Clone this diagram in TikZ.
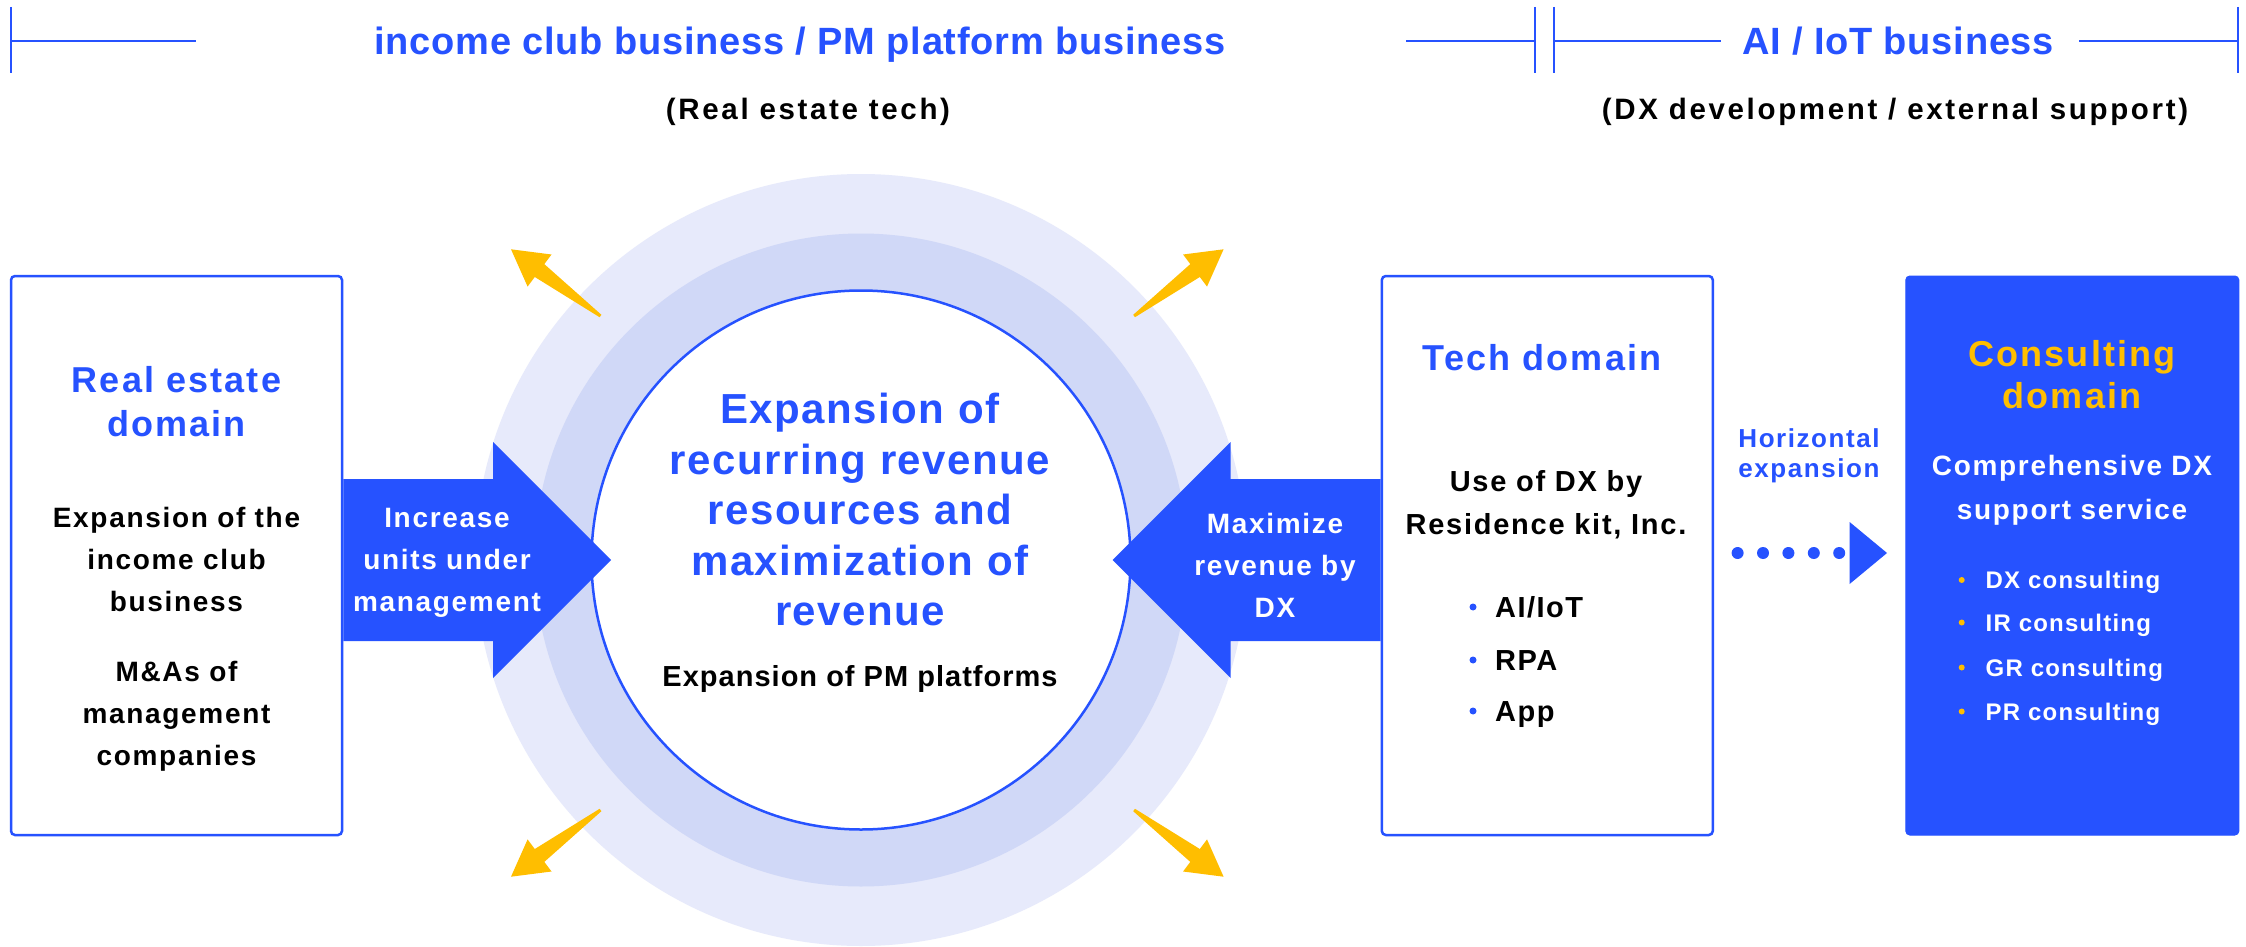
\documentclass[tikz,border=0pt]{standalone}
\usepackage{fontspec}
\setmainfont{Liberation Sans}
\newfontfamily\ftitle[LetterSpace=2]{Liberation Sans}
\newfontfamily\fsub[LetterSpace=9]{Liberation Sans}
\newfontfamily\fbody[LetterSpace=6]{Liberation Sans}
\newfontfamily\fcirc[LetterSpace=3.5]{Liberation Sans}
\newfontfamily\fitem[LetterSpace=5]{Liberation Sans}
\definecolor{mblue}{RGB}{38,82,255}
\definecolor{ringA}{RGB}{231,234,251}
\definecolor{ringB}{RGB}{208,216,247}
\definecolor{myellow}{RGB}{255,190,0}
\begin{document}
\begin{tikzpicture}[x=1pt,y=-1pt,
  hline/.style={draw=mblue, line width=2.5pt},
  box/.style={draw=mblue, line width=2.5pt, fill=white, rounded corners=4pt,
    minimum width=331pt, minimum height=559pt, inner sep=0pt},
  txt/.style={anchor=base, inner sep=0pt, align=center},
  item/.style={anchor=base west, inner sep=0pt},
  yarrow/.style={fill=myellow},
  barrow/.style={fill=mblue}]
\fill[white] (0,0) rectangle (2246,947);
\useasboundingbox (0,0) rectangle (2246,947);

% header
\node[txt, text=mblue, font=\ftitle\bfseries\fontsize{38}{46}\selectfont] (t1) at (800,55) {income club business / PM platform business};
\node[txt, text=mblue, font=\ftitle\bfseries\fontsize{38}{46}\selectfont] (t2) at (1898,55) {AI / IoT business};
\node[txt, font=\fsub\bfseries\fontsize{29.5}{36}\selectfont] (s1) at (808,120) {(Real estate tech)};
\node[txt, font=\fsub\bfseries\fontsize{29.5}{36}\selectfont] (s2) at (1895,120) {(DX development / external support)};
\draw[hline] (11,7) -- (11,73);
\draw[hline] (11,41) -- (196,41);
\draw[hline] (1406,41) -- (1535,41);
\draw[hline] (1535,7) -- (1535,73);
\draw[hline] (1554,7) -- (1554,73);
\draw[hline] (1554,41) -- (1721,41);
\draw[hline] (2079,41) -- (2238,41);
\draw[hline] (2238,7) -- (2238,73);

% circle
\fill[ringA] (861,560) circle (386);
\fill[ringB] (861,560) circle (326.5);
\node[circle, draw=mblue, line width=2.5pt, fill=white, minimum size=539pt, inner sep=0pt] (core) at (861,560) {};

% yellow arrows
\fill[yarrow] (511.0,249.3) -- (551.5,254.5) -- (544.3,264.1) -- (601.4,314.8) -- (599.6,317.2) -- (534.8,277.0) -- (527.6,286.6) -- cycle;
\fill[yarrow] (1223.6,249.3) -- (1183.1,254.5) -- (1190.3,264.1) -- (1133.2,314.8) -- (1135.0,317.2) -- (1199.8,277.0) -- (1207.0,286.6) -- cycle;
\fill[yarrow] (511.0,876.7) -- (551.5,871.5) -- (544.3,861.9) -- (601.4,811.2) -- (599.6,808.8) -- (534.8,849.0) -- (527.6,839.4) -- cycle;
\fill[yarrow] (1223.6,876.7) -- (1183.1,871.5) -- (1190.3,861.9) -- (1133.2,811.2) -- (1135.0,808.8) -- (1199.8,849.0) -- (1207.0,839.4) -- cycle;

% boxes
\node[box] (re) at (176.5,555.5) {};
\node[box] (tech) at (1547.3,555.5) {};
\node[box, draw=mblue, fill=mblue, line width=1pt, minimum width=333pt] (cons) at (2072.3,555.5) {};

% big blue arrows
\fill[barrow] (re.east |- 0,479) -- (493,479) -- (493,442) -- (611,560) -- (493,678) -- (493,641) -- (re.east |- 0,641) -- cycle;
\fill[barrow] (tech.west |- 0,479) -- (1230.5,479) -- (1230.5,442) -- (1112.7,560) -- (1230.5,678) -- (1230.5,641) -- (tech.west |- 0,641) -- cycle;

% left box text
\node[txt, text width=320pt, text=mblue, font=\fbody\bfseries\fontsize{36}{44}\selectfont] (retitle) at (176.5,392) {Real estate\\domain};
\node[txt, text width=320pt, font=\fbody\bfseries\fontsize{28}{42}\selectfont] (rebodyA) at (176.5,527) {Expansion of the\\income club\\business};
\node[txt, text width=320pt, font=\fbody\bfseries\fontsize{28}{42}\selectfont] (rebodyB) at (176.5,681) {M\&As of\\management\\companies};

% arrow texts
\node[txt, text width=220pt, text=white, font=\fbody\bfseries\fontsize{28}{42}\selectfont] (inc) at (447,527) {Increase\\units under\\management};
\node[txt, text width=220pt, text=white, font=\fbody\bfseries\fontsize{28}{42}\selectfont] (maxi) at (1275,533) {Maximize\\revenue by\\DX};

% circle text
\node[txt, text width=500pt, text=mblue, font=\fcirc\bfseries\fontsize{42}{50.5}\selectfont] (ctext) at (860,423.5) {Expansion of\\recurring revenue\\resources and\\maximization of\\revenue};
\node[txt, font=\fcirc\bfseries\fontsize{29}{35}\selectfont] (csub) at (860,686) {Expansion of PM platforms};

% tech box text
\node[txt, text=mblue, font=\fbody\bfseries\fontsize{36}{44}\selectfont] (techt) at (1542,370) {Tech domain};
\node[txt, text width=320pt, font=\fbody\bfseries\fontsize{29}{43}\selectfont] (techb) at (1546,491) {Use of DX by\\Residence kit, Inc.};
\fill[mblue] (1473,607) circle (3.5);
\fill[mblue] (1473,660) circle (3.5);
\fill[mblue] (1473,711) circle (3.5);
\node[item, font=\fitem\bfseries\fontsize{29}{35}\selectfont] (ti1) at (1495,617) {AI/IoT};
\node[item, font=\fitem\bfseries\fontsize{29}{35}\selectfont] (ti2) at (1495,670) {RPA};
\node[item, font=\fitem\bfseries\fontsize{29}{35}\selectfont] (ti3) at (1495,721) {App};

% horizontal expansion
\node[txt, text width=200pt, text=mblue, font=\fbody\bfseries\fontsize{26}{30}\selectfont] (hexp) at (1809,447) {Horizontal\\expansion};
\draw[mblue, line width=12pt, line cap=round, dash pattern=on 0pt off 25.4pt] (1737.6,553) -- (1842,553);
\fill[mblue] (1849.6,522) -- (1887,553) -- (1849.6,584) -- cycle;

% consulting box text
\node[txt, text width=320pt, text=myellow, font=\fbody\bfseries\fontsize{36}{42}\selectfont] (ctitle) at (2072,366) {Consulting\\domain};
\node[txt, text width=330pt, text=white, font=\fbody\bfseries\fontsize{28}{43.5}\selectfont] (cbody) at (2072,475.6) {Comprehensive DX\\support service};
\fill[myellow] (1961.7,580) circle (3);
\fill[myellow] (1961.7,622.5) circle (3);
\fill[myellow] (1961.7,667.5) circle (3);
\fill[myellow] (1961.7,711.5) circle (3);
\node[item, text=white, font=\fitem\bfseries\fontsize{24}{30}\selectfont] (ci1) at (1985.5,588.5) {DX consulting};
\node[item, text=white, font=\fitem\bfseries\fontsize{24}{30}\selectfont] (ci2) at (1985.5,631) {IR consulting};
\node[item, text=white, font=\fitem\bfseries\fontsize{24}{30}\selectfont] (ci3) at (1985.5,676) {GR consulting};
\node[item, text=white, font=\fitem\bfseries\fontsize{24}{30}\selectfont] (ci4) at (1985.5,720) {PR consulting};
\end{tikzpicture}
\end{document}
